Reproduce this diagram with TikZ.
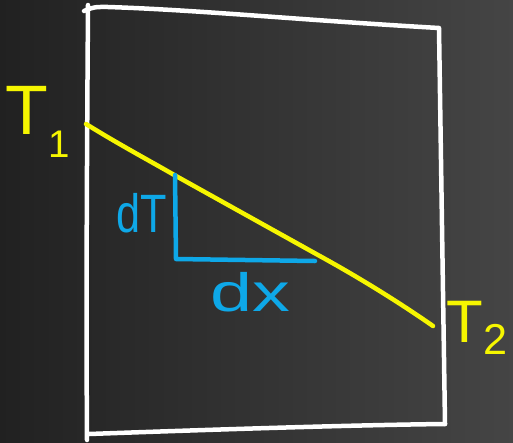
\documentclass[tikz,border=0pt]{standalone}
\usepackage{fontspec}
\setmainfont{Liberation Sans}
\begin{document}
\begin{tikzpicture}[x=1pt,y=-1pt,
  chalk/.style={line width=4.5pt,line cap=round,line join=round},
  boxline/.style={chalk,white},
  yline/.style={chalk,color=yel},
  bline/.style={chalk,color=blu},
  ylab/.style={text=yel,inner sep=0pt,font=\fontsize{70}{70}\selectfont},
  blab/.style={text=blu,inner sep=0pt,font=\fontsize{54}{54}\selectfont}]
\definecolor{yel}{HTML}{F6F600}
\definecolor{blu}{HTML}{0EA8E8}
\shade[left color=black!87,right color=black!73] (0,0) rectangle (513,442);
\useasboundingbox (0,0) rectangle (513,442);
% box corners
\coordinate (tl0) at (84,11);
\coordinate (tl) at (108,7);
\coordinate (tr) at (439,28);
\coordinate (br) at (445,424);
\coordinate (bl) at (89,434);
\coordinate (lt) at (88,5);
\coordinate (lb) at (87,440);
\draw[boxline] (tl0) .. controls (95,6) and (100,7) .. (tl) .. controls (200,10) and (300,20) .. (tr) -- (br);
\draw[boxline] (lt) .. controls (87,150) and (86,300) .. (lb);
\draw[boxline] (bl) .. controls (200,430) and (350,425) .. (br);
% yellow line
\coordinate (y1) at (86,124);
\coordinate (ya) at (176,176);
\coordinate (yb) at (318,255);
\coordinate (y2) at (433,326);
\draw[yline] (y1) .. controls (120,145) and (150,161) .. (ya) -- (yb) .. controls (360,278) and (400,303) .. (y2);
% blue triangle
\coordinate (bt) at (175,175);
\coordinate (bc) at (176,259);
\coordinate (be) at (315,261);
\draw[bline] (bt) -- (bc) -- (be);
% labels
\node[ylab] (t1) at (38,122) {T\raisebox{-0.32em}{\scalebox{0.55}{1}}};
\node[ylab,font=\fontsize{60}{60}\selectfont] (t2) at (477,328) {T\raisebox{-0.2em}{\scalebox{0.72}{2}}};
\node[blab] (dT) at (142,213) {\scalebox{0.8}[1]{dT}};
\node[blab] (dx) at (250,292) {\scalebox{1.4}[1]{dx}};
\end{tikzpicture}
\end{document}
